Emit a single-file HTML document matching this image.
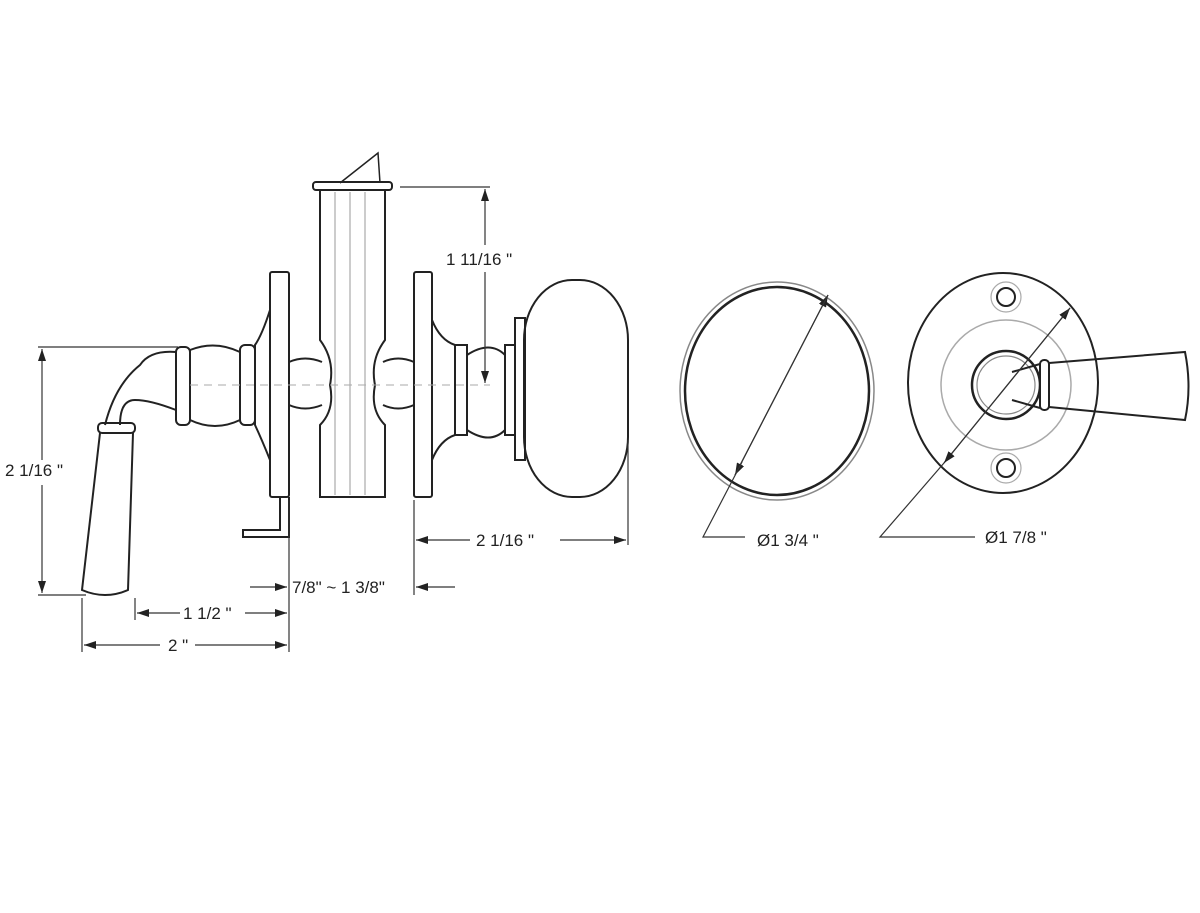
<!DOCTYPE html>
<html><head><style>
html,body{margin:0;padding:0;background:#fff;}
svg{display:block}
text{font-family:"Liberation Sans",sans-serif;font-size:17px;fill:#222}
</style></head><body>
<svg width="1200" height="913" viewBox="0 0 1200 913">
<defs>
<marker id="a" markerWidth="12" markerHeight="8" refX="12" refY="4" orient="auto" markerUnits="userSpaceOnUse"><path d="M0,0 L12,4 L0,8 Z" fill="#222"/></marker>
</defs>
<g fill="none" stroke="#222" stroke-width="2">
<path d="M340,183 L378,153 L380,183" stroke-width="1.5"/>
<rect x="313" y="182" width="79" height="8" rx="3"/>
<path d="M320,190 L320,340 Q335,360 330,385 Q335,410 320,425 L320,497 L385,497 L385,425 Q370,410 375,385 Q370,360 385,340 L385,190"/>
<g stroke="#999" stroke-width="1"><line x1="335" y1="192" x2="335" y2="495"/><line x1="350" y1="192" x2="350" y2="495"/><line x1="365" y1="192" x2="365" y2="495"/></g>
<rect x="270" y="272" width="19" height="225" rx="2"/>
<rect x="414" y="272" width="18" height="225" rx="2"/>
<path d="M289,362 Q305,355 322,362 M289,405 Q305,412 322,405"/>
<path d="M414,362 Q398,355 383,362 M414,405 Q398,412 383,405"/>
<path d="M280,497 L280,530 L243,530 L243,537 L289,537 L289,497"/>
<path d="M270,310 Q262,335 255,345 L255,425 Q262,440 270,460"/>
<rect x="240" y="345" width="15" height="80" rx="5"/>
<path d="M190,350 Q215,340 240,352 L240,420 Q215,432 190,420 Z"/>
<rect x="176" y="347" width="14" height="78" rx="5"/>
<path d="M176,352 Q150,350 140,365 Q115,385 105,425 M176,410 Q150,400 135,400 Q120,400 120,425"/>
<rect x="98" y="423" width="37" height="10" rx="4"/>
<path d="M100,433 L82,590 Q105,600 128,590 L133,433"/>
<path d="M432,320 Q440,340 455,345 L455,435 Q440,440 432,460"/>
<rect x="455" y="345" width="12" height="90"/>
<path d="M467,355 Q490,340 505,355 L505,430 Q490,445 467,430 Z"/>
<rect x="505" y="345" width="10" height="90"/>
<rect x="515" y="318" width="10" height="142"/>
<rect x="524" y="280" width="104" height="217" rx="48" ry="60"/>
<ellipse cx="777" cy="391" rx="97" ry="109" stroke="#888" stroke-width="1.5"/>
<ellipse cx="777" cy="391" rx="92" ry="104" stroke-width="2.5"/>
<ellipse cx="1003" cy="383" rx="95" ry="110" stroke-width="2"/>
<circle cx="1006" cy="385" r="65" stroke="#aaa" stroke-width="1.5"/>
<circle cx="1006" cy="297" r="15" stroke="#aaa" stroke-width="1.2"/>
<circle cx="1006" cy="297" r="9"/>
<circle cx="1006" cy="468" r="15" stroke="#aaa" stroke-width="1.2"/>
<circle cx="1006" cy="468" r="9"/>
<circle cx="1006" cy="385" r="34" stroke-width="2.5"/>
<circle cx="1006" cy="385" r="29" stroke="#888" stroke-width="1.2"/>
<path d="M1012,372 L1040,364 M1012,400 L1040,408" fill="none"/>
<rect x="1040" y="360" width="9" height="50" rx="4" fill="#fff"/>
<path d="M1049,363 L1185,352 Q1192,387 1185,420 L1049,407"/>
</g>
<line x1="190" y1="385" x2="490" y2="385" stroke="#aaa" stroke-width="1" stroke-dasharray="8,6"/>
<g stroke="#333" stroke-width="1.2" fill="none">
<line x1="38" y1="347" x2="178" y2="347"/>
<line x1="38" y1="595" x2="86" y2="595"/>
<line x1="42" y1="460" x2="42" y2="349" marker-end="url(#a)"/>
<line x1="42" y1="485" x2="42" y2="593" marker-end="url(#a)"/>
<line x1="82" y1="598" x2="82" y2="652"/>
<line x1="135" y1="598" x2="135" y2="620"/>
<line x1="289" y1="500" x2="289" y2="652"/>
<line x1="414" y1="500" x2="414" y2="595"/>
<line x1="628" y1="440" x2="628" y2="545"/>
<line x1="180" y1="613" x2="137" y2="613" marker-end="url(#a)"/>
<line x1="245" y1="613" x2="287" y2="613" marker-end="url(#a)"/>
<line x1="160" y1="645" x2="84" y2="645" marker-end="url(#a)"/>
<line x1="195" y1="645" x2="287" y2="645" marker-end="url(#a)"/>
<line x1="250" y1="587" x2="287" y2="587" marker-end="url(#a)"/>
<line x1="455" y1="587" x2="416" y2="587" marker-end="url(#a)"/>
<line x1="470" y1="540" x2="416" y2="540" marker-end="url(#a)"/>
<line x1="560" y1="540" x2="626" y2="540" marker-end="url(#a)"/>
<line x1="400" y1="187" x2="490" y2="187"/>
<line x1="485" y1="245" x2="485" y2="189" marker-end="url(#a)"/>
<line x1="485" y1="272" x2="485" y2="383" marker-end="url(#a)"/>
<line x1="735" y1="475" x2="828" y2="295" marker-end="url(#a)"/>
<line x1="828" y1="295" x2="735" y2="475" marker-end="url(#a)"/>
<polyline points="742,462 703,537 745,537"/>
<line x1="944" y1="463" x2="1070" y2="308" marker-end="url(#a)"/>
<line x1="1070" y1="308" x2="944" y2="463" marker-end="url(#a)"/>
<polyline points="944,463 880,537 975,537"/>
</g>
<text x="5" y="476">2  1/16 "</text>
<text x="446" y="265">1 11/16  "</text>
<text x="183" y="619">1 1/2 "</text>
<text x="168" y="651">2 "</text>
<text x="292" y="593">7/8" ~ 1 3/8"</text>
<text x="476" y="546">2  1/16 "</text>
<text x="757" y="546">Ø1 3/4 "</text>
<text x="985" y="543">Ø1 7/8 "</text>
</svg>
</body></html>
